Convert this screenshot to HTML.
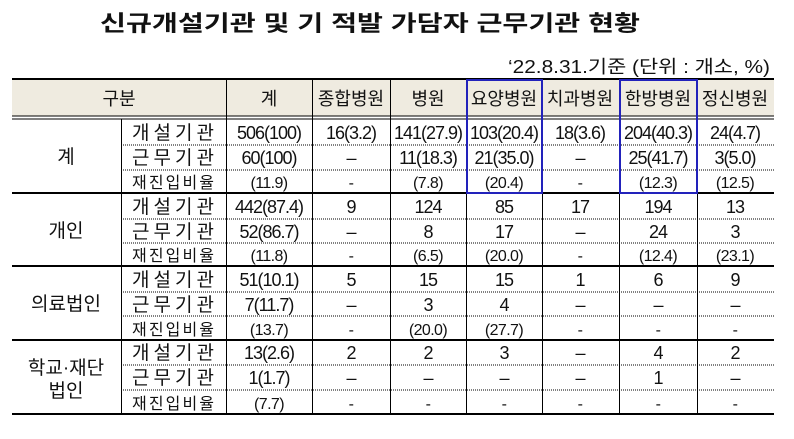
<!DOCTYPE html>
<html><head><meta charset="utf-8"><style>
html,body{margin:0;padding:0;background:#fff;}
svg{display:block;}
text{font-family:"Liberation Sans","Noto Sans CJK KR","NanumGothic",sans-serif;fill:#111;}
</style></head><body>
<svg width="794" height="439" viewBox="0 0 794 439" xmlns="http://www.w3.org/2000/svg">
<text x="100" y="31" font-size="22" font-weight="bold" textLength="540" lengthAdjust="spacingAndGlyphs">신규개설기관 및 기 적발 가담자 근무기관 현황</text>
<text x="508" y="73" font-size="18" textLength="262" lengthAdjust="spacingAndGlyphs">‘22.8.31.기준 (단위 : 개소, %)</text>
<rect x="12" y="79" width="762" height="37" fill="#efebe0"/>
<g stroke="#000">
<line x1="12" y1="79" x2="774" y2="79" stroke-width="2"/>
<line x1="12" y1="116" x2="774" y2="116" stroke-width="1"/>
<line x1="12" y1="119" x2="774" y2="119" stroke-width="1"/>
<line x1="12" y1="193" x2="774" y2="193" stroke-width="2"/>
<line x1="12" y1="266" x2="774" y2="266" stroke-width="2"/>
<line x1="12" y1="340" x2="774" y2="340" stroke-width="2"/>
<line x1="12" y1="414" x2="774" y2="414" stroke-width="2"/>
</g>
<g stroke="#000" stroke-width="1" stroke-dasharray="1,1">
<line x1="121" y1="145" x2="774" y2="145"/><line x1="121" y1="170" x2="774" y2="170"/>
<line x1="121" y1="219" x2="774" y2="219"/><line x1="121" y1="243" x2="774" y2="243"/>
<line x1="121" y1="292" x2="774" y2="292"/><line x1="121" y1="316" x2="774" y2="316"/>
<line x1="121" y1="365" x2="774" y2="365"/><line x1="121" y1="390" x2="774" y2="390"/>
</g>
<g stroke="#000" stroke-width="1">
<line x1="121.5" y1="119" x2="121.5" y2="414"/>
<line x1="226.5" y1="79" x2="226.5" y2="414"/>
<line x1="312.5" y1="79" x2="312.5" y2="414"/>
<line x1="390.5" y1="79" x2="390.5" y2="414"/>
<line x1="466.5" y1="79" x2="466.5" y2="414"/>
<line x1="542.5" y1="79" x2="542.5" y2="414"/>
<line x1="619.5" y1="79" x2="619.5" y2="414"/>
<line x1="697.5" y1="79" x2="697.5" y2="414"/>
</g>
<g fill="none" stroke="#2222bb" stroke-width="2">
<rect x="467" y="80" width="75" height="113"/>
<rect x="620" y="80" width="77" height="113"/>
</g>
<g font-size="18" text-anchor="middle">
<text x="119" y="105">구분</text>
<text x="269" y="105">계</text>
<text x="351" y="105">종합병원</text>
<text x="428" y="105">병원</text>
<text x="504" y="105">요양병원</text>
<text x="580" y="105">치과병원</text>
<text x="658" y="105">한방병원</text>
<text x="735" y="105">정신병원</text>
</g>
<g font-size="19" text-anchor="middle">
<text x="66" y="163">계</text>
<text x="66" y="237">개인</text>
<text x="66" y="310">의료법인</text>
<text x="66" y="374">학교·재단</text>
<text x="66" y="397">법인</text>
</g>
<g font-size="19">
<text x="132" y="139" textLength="82">개설기관</text>
<text x="132" y="164" textLength="82">근무기관</text>
<text x="132" y="188" font-size="16" textLength="82">재진입비율</text>
<text x="132" y="213" textLength="82">개설기관</text>
<text x="132" y="238" textLength="82">근무기관</text>
<text x="132" y="261" font-size="16" textLength="82">재진입비율</text>
<text x="132" y="286" textLength="82">개설기관</text>
<text x="132" y="311" textLength="82">근무기관</text>
<text x="132" y="335" font-size="16" textLength="82">재진입비율</text>
<text x="132" y="359" textLength="82">개설기관</text>
<text x="132" y="384" textLength="82">근무기관</text>
<text x="132" y="409" font-size="16" textLength="82">재진입비율</text>
</g>
<g font-size="18" text-anchor="middle" letter-spacing="-1">
<text x="269" y="139">506(100)</text><text x="351" y="139">16(3.2)</text><text x="428" y="139">141(27.9)</text><text x="504" y="139">103(20.4)</text><text x="580" y="139">18(3.6)</text><text x="658" y="139">204(40.3)</text><text x="735" y="139">24(4.7)</text>
<text x="269" y="164">60(100)</text><text x="351" y="164">–</text><text x="428" y="164">11(18.3)</text><text x="504" y="164">21(35.0)</text><text x="580" y="164">–</text><text x="658" y="164">25(41.7)</text><text x="735" y="164">3(5.0)</text>
<text x="269" y="213">442(87.4)</text><text x="351" y="213">9</text><text x="428" y="213">124</text><text x="504" y="213">85</text><text x="580" y="213">17</text><text x="658" y="213">194</text><text x="735" y="213">13</text>
<text x="269" y="238">52(86.7)</text><text x="351" y="238">–</text><text x="428" y="238">8</text><text x="504" y="238">17</text><text x="580" y="238">–</text><text x="658" y="238">24</text><text x="735" y="238">3</text>
<text x="269" y="286">51(10.1)</text><text x="351" y="286">5</text><text x="428" y="286">15</text><text x="504" y="286">15</text><text x="580" y="286">1</text><text x="658" y="286">6</text><text x="735" y="286">9</text>
<text x="269" y="311">7(11.7)</text><text x="351" y="311">–</text><text x="428" y="311">3</text><text x="504" y="311">4</text><text x="580" y="311">–</text><text x="658" y="311">–</text><text x="735" y="311">–</text>
<text x="269" y="359">13(2.6)</text><text x="351" y="359">2</text><text x="428" y="359">2</text><text x="504" y="359">3</text><text x="580" y="359">–</text><text x="658" y="359">4</text><text x="735" y="359">2</text>
<text x="269" y="384">1(1.7)</text><text x="351" y="384">–</text><text x="428" y="384">–</text><text x="504" y="384">–</text><text x="580" y="384">–</text><text x="658" y="384">1</text><text x="735" y="384">–</text>
</g>
<g font-size="16" text-anchor="middle" letter-spacing="-0.6">
<text x="269" y="188">(11.9)</text><text x="351" y="188">-</text><text x="428" y="188">(7.8)</text><text x="504" y="188">(20.4)</text><text x="580" y="188">-</text><text x="658" y="188">(12.3)</text><text x="735" y="188">(12.5)</text>
<text x="269" y="261">(11.8)</text><text x="351" y="261">-</text><text x="428" y="261">(6.5)</text><text x="504" y="261">(20.0)</text><text x="580" y="261">-</text><text x="658" y="261">(12.4)</text><text x="735" y="261">(23.1)</text>
<text x="269" y="335">(13.7)</text><text x="351" y="335">-</text><text x="428" y="335">(20.0)</text><text x="504" y="335">(27.7)</text><text x="580" y="335">-</text><text x="658" y="335">-</text><text x="735" y="335">-</text>
<text x="269" y="409">(7.7)</text><text x="351" y="409">-</text><text x="428" y="409">-</text><text x="504" y="409">-</text><text x="580" y="409">-</text><text x="658" y="409">-</text><text x="735" y="409">-</text>
</g>
</svg>
</body></html>
